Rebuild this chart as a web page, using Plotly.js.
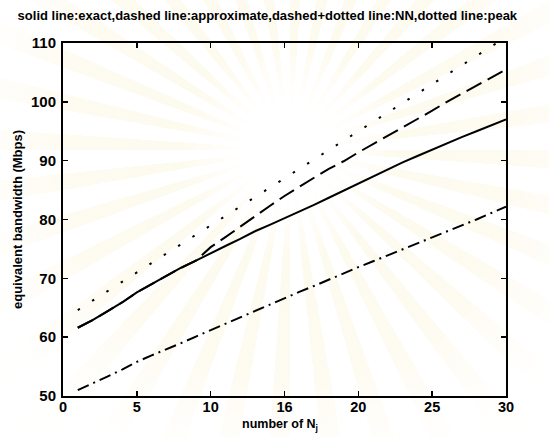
<!DOCTYPE html>
<html>
<head>
<meta charset="utf-8">
<script src="https://cdn.plot.ly/plotly-3.0.1.min.js"></script>
<style>
  html, body { margin: 0; padding: 0; background: #ffffff; }
  #wrap { position: relative; width: 549px; height: 437px; overflow: hidden;
    background:
      radial-gradient(circle at 290px 150px, rgba(255,255,255,1) 0px, rgba(255,255,255,0.95) 50px, rgba(255,255,255,0.2) 110px, rgba(255,255,255,0.3) 220px, rgba(255,255,255,0.95) 330px),
      repeating-conic-gradient(from 0deg at 290px 150px, #fdf9ea 0deg 4deg, #ffffff 4deg 10deg);
  }
  #chart { position: absolute; left: 0; top: 0; width: 549px; height: 437px; }
</style>
</head>
<body>
<div id="wrap"><div id="chart"></div></div>
<script>
// number of sources on the x axis
const nSources = [1,2,3,4,5,6,7,8,9,10,11,12,13,14,15,16,17,18,19,20,21,22,23,24,25,26,27,28,29,30];

// equivalent bandwidth (Mbps) for each method
const exactBw = [61.6,62.9,64.4,65.9,67.6,69.0,70.5,71.8,73.0,74.3,75.5,76.7,78.0,79.1,80.2,81.3,82.5,83.7,84.9,86.2,87.4,88.6,89.7,90.8,91.9,93.0,94.0,95.0,96.0,97.0];
const approxBw = [61.6,62.9,64.4,65.9,67.6,69.0,70.5,71.8,73.0,75.3,77.0,78.8,80.5,82.3,84.0,85.6,87.1,88.6,89.9,91.4,92.8,94.2,95.6,97.0,98.5,100.0,101.4,102.8,104.1,105.5];
const nnBw = [51.0,52.1,53.3,54.5,55.8,56.9,57.9,59.0,60.1,61.2,62.3,63.4,64.5,65.6,66.7,67.7,68.7,69.8,70.8,71.9,72.9,73.9,74.9,75.9,76.9,78.0,79.0,80.0,81.1,82.2];
const peakBw = [64.6,66.2,67.8,69.4,71.0,72.6,74.2,75.8,77.4,79.0,80.6,82.2,83.8,85.4,87.0,88.6,90.2,91.8,93.4,95.0,96.6,98.2,99.8,101.4,103.0,104.6,106.2,107.8,109.4,111.0];

const xTicks = [0,5,10,15,20,25,30];
const xTickText = ['0','5','10','16','20','25','30'];
const yTicks = [50,60,70,80,90,100,110];

const FONT = '"Liberation Sans Narrow", "Liberation Sans", Arial, sans-serif';
const INK = '#000000';

function series(y, dash) {
  return { x: nSources, y: y, type: 'scatter', mode: 'lines',
           line: { color: INK, width: 2, dash: dash }, showlegend: false, hoverinfo: 'skip' };
}

const data = [
  series(exactBw, 'solid'),
  series(approxBw, '17px,7px'),
  series(nnBw, '12px,5px,2px,5px'),
  series(peakBw, '2.5px,14.5px')
];

const axisCommon = {
  showline: true, linecolor: INK, linewidth: 2, mirror: 'ticks',
  ticks: 'inside', ticklen: 5, tickwidth: 1.5, tickcolor: INK,
  showgrid: false, zeroline: false,
  tickfont: { family: FONT, size: 15, color: INK, weight: 'bold' }
};

const layout = {
  width: 549, height: 437,
  margin: { l: 63, r: 43, t: 43, b: 41 },
  paper_bgcolor: 'rgba(0,0,0,0)',
  plot_bgcolor: 'rgba(0,0,0,0)',
  font: { family: FONT, color: INK, weight: 'bold' },
  title: {
    text: 'solid line:exact,dashed line:approximate,dashed+dotted line:NN,dotted line:peak',
    font: { family: FONT, size: 13, color: INK, weight: 'bold' },
    x: 0.487, xanchor: 'center', xref: 'container',
    y: 1 - 15 / 437, yanchor: 'middle', yref: 'container'
  },
  xaxis: Object.assign({}, axisCommon, {
    range: [0, 30], tickvals: xTicks, ticktext: xTickText, ticklabelstandoff: -3,
    tickfont: { family: FONT, size: 14.5, color: INK, weight: 'bold' }
  }),
  yaxis: Object.assign({}, axisCommon, {
    range: [50, 110], tickvals: yTicks, ticklabelstandoff: 2,
    title: { text: 'equivalent bandwidth (Mbps)', standoff: 5,
             font: { family: FONT, size: 13, color: INK, weight: 'bold' } }
  }),
  annotations: [{
    text: 'number of N<sub>j</sub>', showarrow: false,
    xref: 'paper', yref: 'paper', x: 0.49, y: -0.082,
    xanchor: 'center', yanchor: 'middle',
    font: { family: FONT, size: 12.5, color: INK, weight: 'bold' }
  }]
};

Plotly.newPlot('chart', data, layout, { displayModeBar: false, staticPlot: true });
</script>
</body>
</html>
